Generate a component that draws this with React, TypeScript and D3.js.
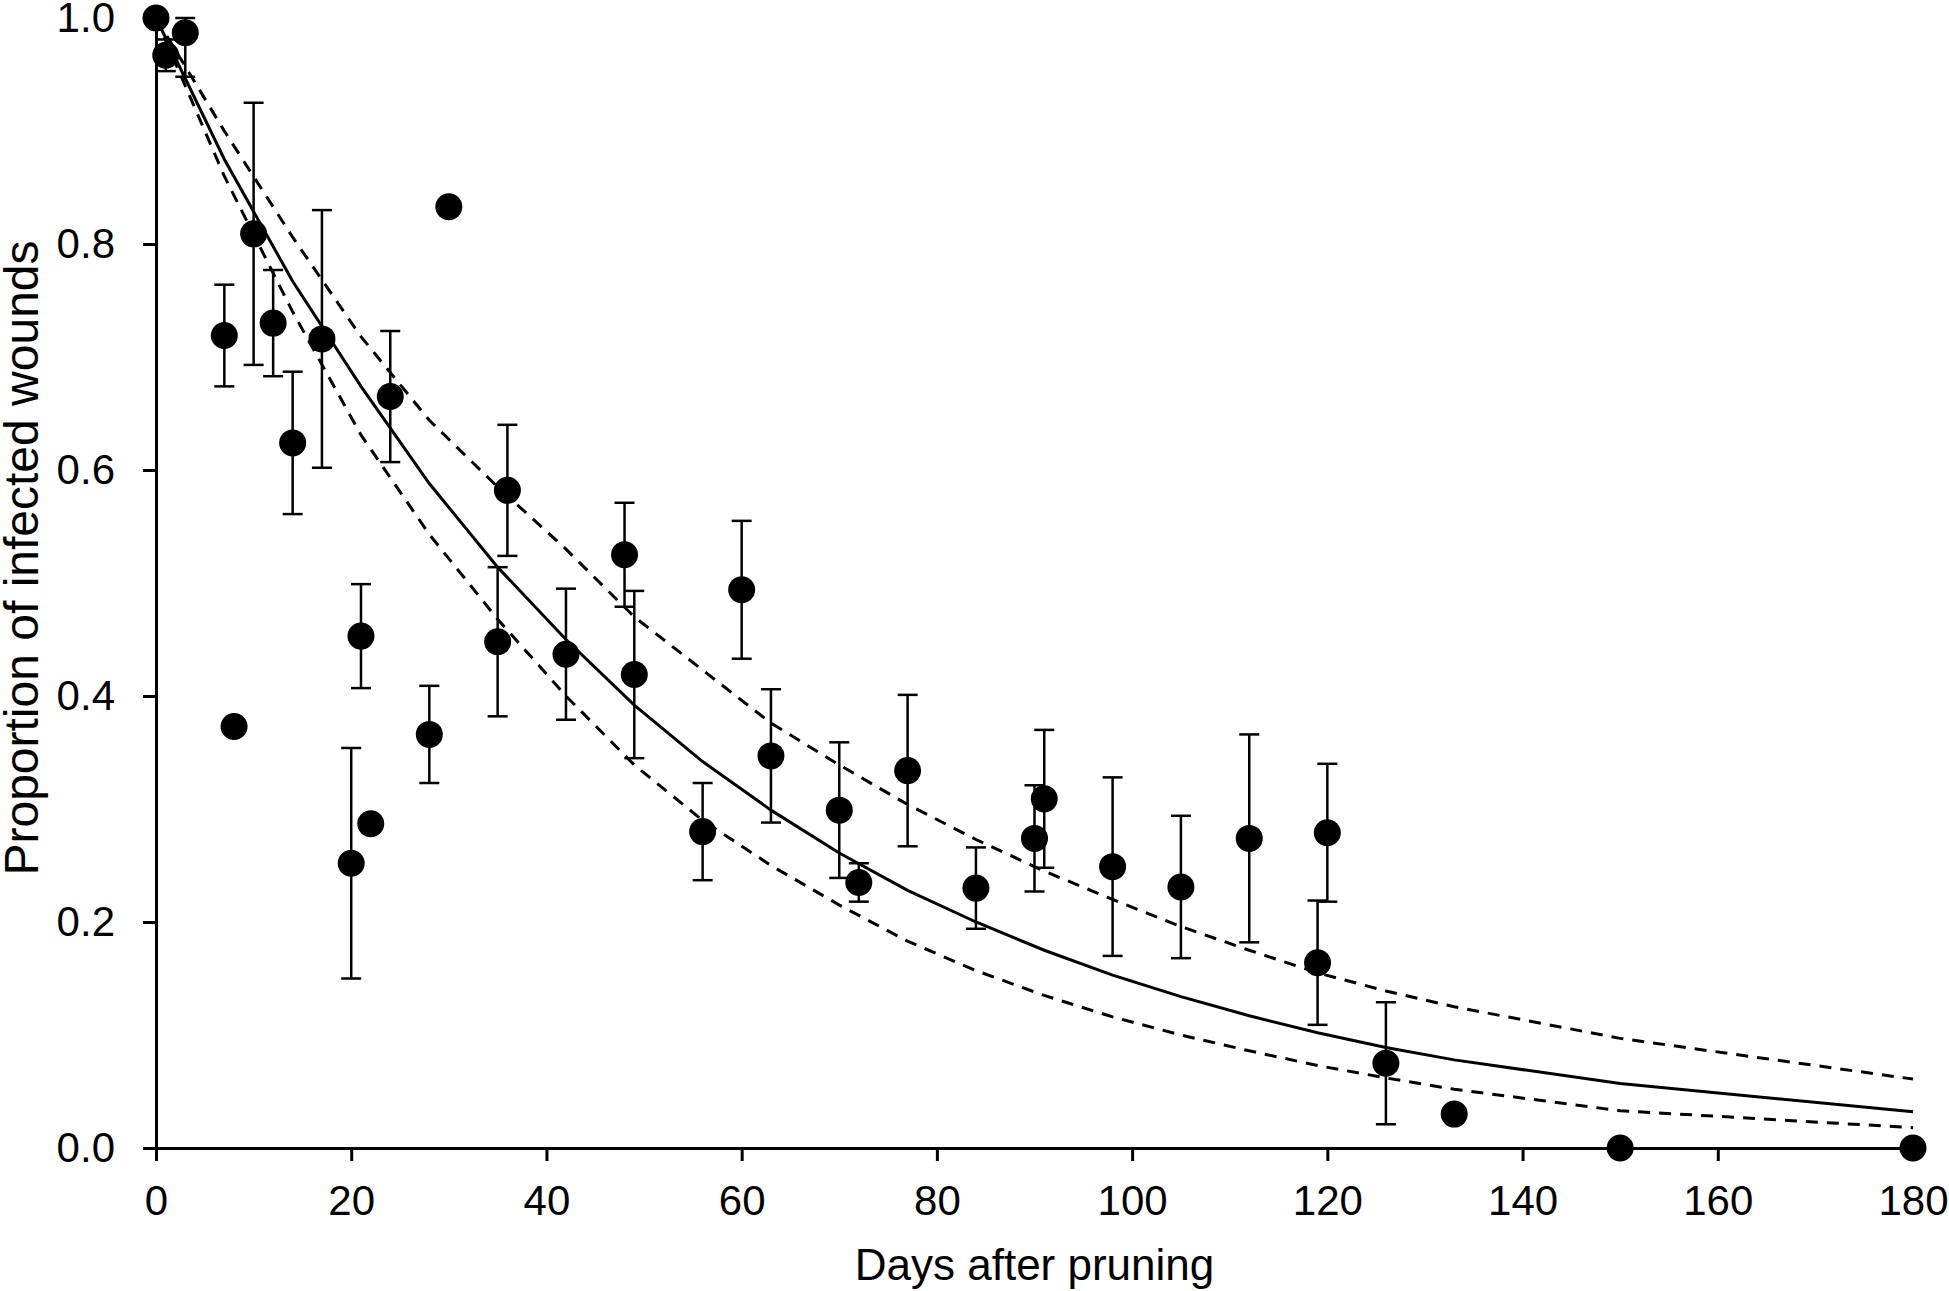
import { useEffect, useRef } from "react";
import * as d3 from "d3";

// observed wound infection (mean and standard error) by day after pruning
const days = [0, 1, 3, 7, 8, 10, 12, 14, 17, 20, 21, 22, 24, 28, 30, 35, 36, 42, 48, 49, 56, 60, 63, 70, 72, 77, 84, 90, 91, 98, 105, 112, 119, 120, 126, 133, 150, 180];
const proportion = [1.0, 0.967, 0.987, 0.719, 0.373, 0.809, 0.73, 0.624, 0.716, 0.252, 0.453, 0.287, 0.665, 0.366, 0.833, 0.448, 0.582, 0.437, 0.525, 0.419, 0.28, 0.494, 0.347, 0.299, 0.235, 0.334, 0.23, 0.274, 0.309, 0.249, 0.231, 0.274, 0.164, 0.279, 0.075, 0.03, 0, 0];
const stdErr = [0, 0.014, 0.039, 0.045, 0, 0.116, 0.047, 0.063, 0.114, 0.102, 0.046, 0, 0.058, 0.043, 0, 0.066, 0.058, 0.058, 0.046, 0.074, 0.043, 0.061, 0.059, 0.06, 0.017, 0.067, 0.036, 0.047, 0.061, 0.079, 0.063, 0.092, 0.055, 0.061, 0.054, 0, 0, 0];

// fitted curve and its confidence limits
const fitDays = [0, 7, 14, 21, 28, 35, 42, 49, 56, 63, 70, 77, 84, 91, 98, 105, 112, 119, 126, 133, 150, 180];
const fitted = [1.0, 0.875, 0.767, 0.674, 0.588, 0.514, 0.45, 0.392, 0.342, 0.299, 0.261, 0.228, 0.2, 0.175, 0.153, 0.134, 0.117, 0.102, 0.089, 0.078, 0.057, 0.032];
const upper = [1.0, 0.9, 0.806, 0.718, 0.644, 0.585, 0.53, 0.47, 0.423, 0.376, 0.339, 0.304, 0.273, 0.245, 0.22, 0.196, 0.175, 0.155, 0.139, 0.125, 0.097, 0.061];
const lower = [1.0, 0.86, 0.74, 0.631, 0.543, 0.468, 0.4, 0.339, 0.29, 0.25, 0.215, 0.183, 0.157, 0.135, 0.116, 0.1, 0.086, 0.073, 0.062, 0.052, 0.033, 0.018];

const xTicks = [0, 20, 40, 60, 80, 100, 120, 140, 160, 180];
const yTicks = [0, 0.2, 0.4, 0.6, 0.8, 1.0];

const width = 1949;
const height = 1291;
const marginLeft = 156;
const marginRight = 36;
const marginTop = 18;
const marginBottom = 143;
const font = "'Liberation Sans', Arial, sans-serif";

const App = () => {
  const gx = useRef<SVGGElement | null>(null);
  const gy = useRef<SVGGElement | null>(null);

  const x = d3.scaleLinear().domain([0, 180]).range([marginLeft, width - marginRight]);
  const y = d3.scaleLinear().domain([0, 1]).range([height - marginBottom, marginTop]);

  useEffect(() => {
    if (gx.current) {
      const g = d3.select(gx.current);
      g.call(
        d3.axisBottom(x).tickValues(xTicks).tickSize(13).tickSizeOuter(0).tickPadding(24).tickFormat(d3.format("d"))
      );
      g.selectAll("path, line").attr("stroke", "#000").attr("stroke-width", 3);
      g.selectAll("text").attr("font-size", 42).attr("font-family", font).attr("fill", "#000");
    }
  }, []);
  useEffect(() => {
    if (gy.current) {
      const g = d3.select(gy.current);
      g.call(
        d3.axisLeft(y).tickValues(yTicks).tickSize(13).tickSizeOuter(0).tickPadding(28).tickFormat(d3.format(".1f"))
      );
      g.selectAll("path, line").attr("stroke", "#000").attr("stroke-width", 3);
      g.selectAll("text").attr("font-size", 42).attr("font-family", font).attr("fill", "#000");
    }
  }, []);

  const line = d3
    .line<number>()
    .x((_, i) => x(fitDays[i]))
    .y((d) => y(d));

  return (
    <svg
      width={width}
      height={height}
      style={{ position: "absolute", left: 0, top: 0, background: "#fff" }}
    >
      {days.map((d, i) =>
        stdErr[i] > 0 ? (
          <g key={`e${d}`} stroke="#000" strokeWidth={2.5}>
            <line x1={x(d)} x2={x(d)} y1={y(Math.min(1, proportion[i] + stdErr[i]))} y2={y(proportion[i] - stdErr[i])} />
            <line x1={x(d) - 10} x2={x(d) + 10} y1={y(Math.min(1, proportion[i] + stdErr[i]))} y2={y(Math.min(1, proportion[i] + stdErr[i]))} />
            <line x1={x(d) - 10} x2={x(d) + 10} y1={y(proportion[i] - stdErr[i])} y2={y(proportion[i] - stdErr[i])} />
          </g>
        ) : null
      )}
      <path d={line(upper) ?? ""} fill="none" stroke="#000" strokeWidth={3} strokeDasharray="12 9" />
      <path d={line(lower) ?? ""} fill="none" stroke="#000" strokeWidth={3} strokeDasharray="12 9" />
      <path d={line(fitted) ?? ""} fill="none" stroke="#000" strokeWidth={3} />
      <g ref={gx} transform={`translate(0,${height - marginBottom})`} />
      <g ref={gy} transform={`translate(${marginLeft},0)`} />
      {days.map((d, i) => (
        <circle key={`p${d}`} cx={x(d)} cy={y(proportion[i])} r={13.5} fill="#000" />
      ))}
      <text x={(marginLeft + width - marginRight) / 2} y={1280} textAnchor="middle" fontSize={44} fontFamily={font}>
        Days after pruning
      </text>
      <text transform="translate(38,558) rotate(-90)" textAnchor="middle" fontSize={48} fontFamily={font}>
        Proportion of infected wounds
      </text>
    </svg>
  );
};

export default App;
